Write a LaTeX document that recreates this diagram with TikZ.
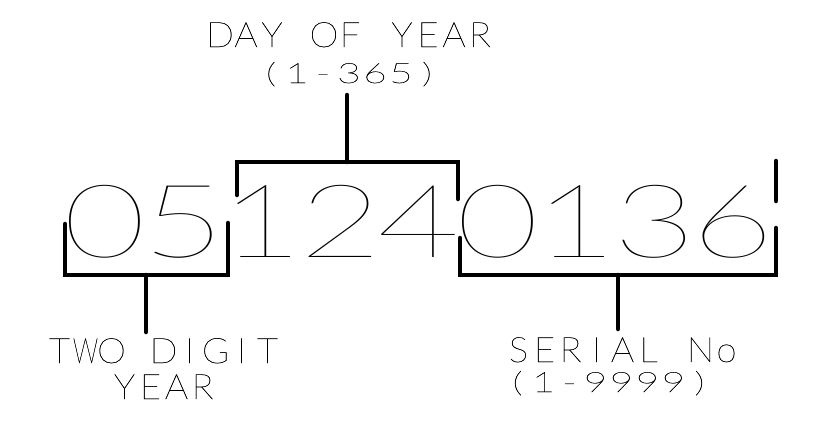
\documentclass[tikz,border=0pt]{standalone}
\usepackage{graphicx}
\usepackage{fontspec}
\newfontfamily\cadthin{Lato Thin}[FakeBold=0.6]
\newfontfamily\cadhair{Lato Thin}
\ExplSyntaxOn
\NewDocumentCommand\cad{mmm}{\str_map_inline:nn{#3}{\makebox[#1][c]{\str_if_eq:nnTF{##1}{W}{\scalebox{0.72}[1]{##1}}{\scalebox{#2}[1]{##1}}}}}
\ExplSyntaxOff
\begin{document}
\begin{tikzpicture}[x=1pt,y=-1pt,
  lbl/.style={inner sep=0pt, anchor=base, font=\cadthin\fontsize{35}{40}\selectfont},
  sub/.style={inner sep=0pt, anchor=base, font=\cadthin\fontsize{28}{32}\selectfont},
  big/.style={inner sep=0pt, anchor=base, font=\cadhair\fontsize{102}{110}\selectfont},
  brk/.style={line width=4.5pt, line cap=round, line join=miter}]
\useasboundingbox (0,0) rectangle (818,424);
% big number
\node[big] (num) at (419,257) {\cad{78.5pt}{1.4}{051240136}};
% labels
\node[lbl] (day) at (350,47) {\cad{26pt}{1.05}{DAY OF YEAR}};
\node[sub] (dayr) at (349,83) {\cad{26pt}{1.45}{(1-365)}};
\node[lbl] (two) at (163.5,363) {\cad{26pt}{1.05}{TWO DIGIT}};
\node[lbl] (yr) at (163.5,399) {\cad{26pt}{1.05}{YEAR}};
\node[lbl] (ser) at (622.5,362) {\cad{26pt}{1.05}{SERIAL No}};
\node[sub] (serr) at (608.5,392) {\cad{26pt}{1.45}{(1-9999)}};
% bracket coordinates
\coordinate (ym) at (146,275);
\coordinate (yend) at (146,332);
\coordinate (dm) at (347,162);
\coordinate (dend) at (347,95);
\coordinate (sm) at (618,275);
\coordinate (send) at (618,329);
% brackets
\draw[brk] (65,224) -- (65,275) -- (228,275) -- (228,223);
\draw[brk] (237,195) -- (237,162) -- (458,162) -- (458,199);
\draw[brk] (460,238) -- (460,275) -- (776,275) -- (776,228);
\draw[brk] (776,161) -- (776,201);
% stems
\draw[brk] (ym) -- (yend);
\draw[brk] (dm) -- (dend);
\draw[brk] (sm) -- (send);
\end{tikzpicture}
\end{document}
